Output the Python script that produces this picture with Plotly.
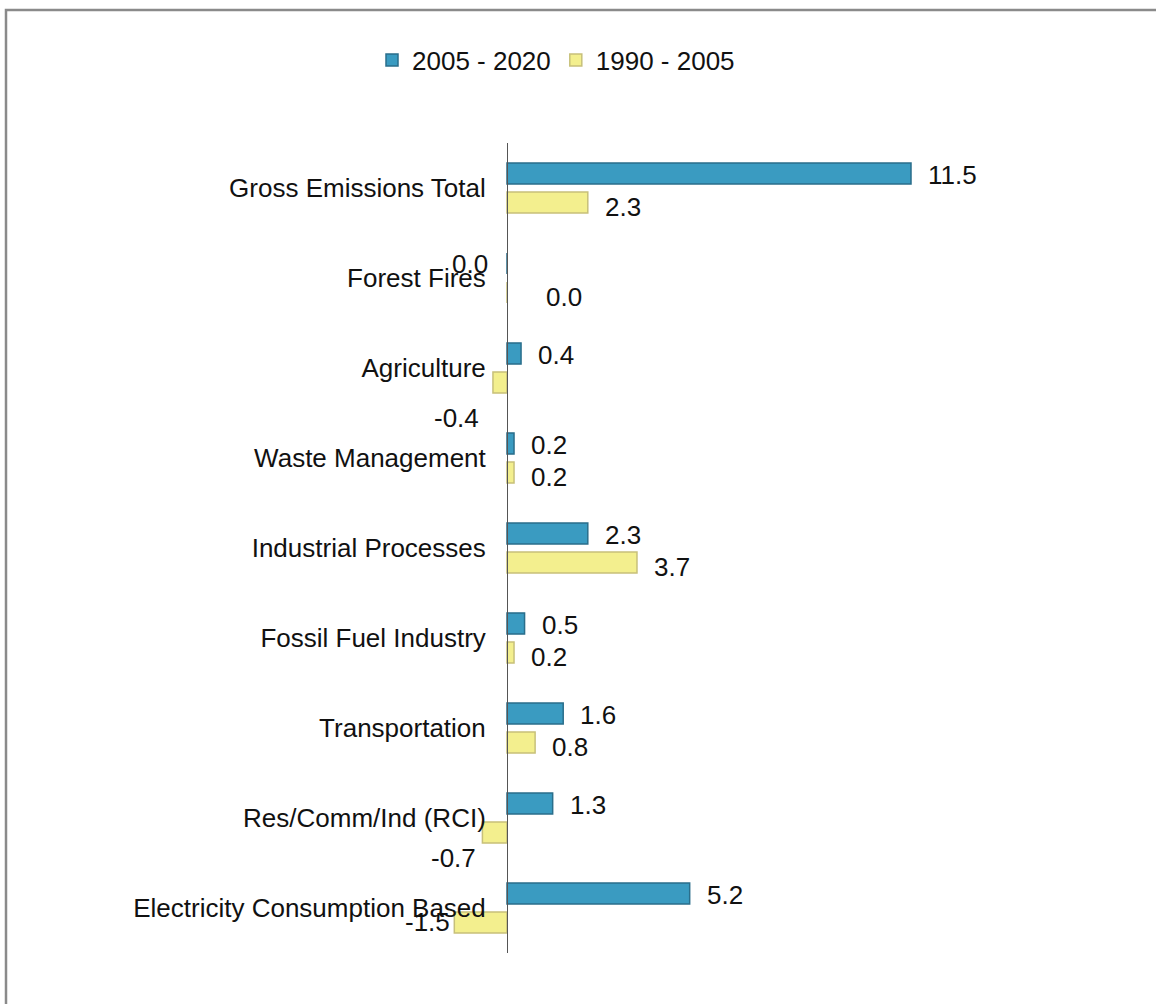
import plotly.graph_objects as go

# Change in emissions by sector (MMtCO2e), two periods
categories = [
    "Gross Emissions Total",
    "Forest Fires",
    "Agriculture",
    "Waste Management",
    "Industrial Processes",
    "Fossil Fuel Industry",
    "Transportation",
    "Res/Comm/Ind (RCI)",
    "Electricity Consumption Based",
]
series_names = ["2005 - 2020", "1990 - 2005"]
values_2005_2020 = [11.5, 0.0, 0.4, 0.2, 2.3, 0.5, 1.6, 1.3, 5.2]
values_1990_2005 = [2.3, 0.0, -0.4, 0.2, 3.7, 0.2, 0.8, -0.7, -1.5]

# ---- styling ----
FONT = "Liberation Sans, Arial, sans-serif"
FS = 26
W, H = 1156, 1004
ML, MR, MT, MB = 60, 60, 143, 51
PLOT_W = W - ML - MR
PLOT_H = H - MT - MB
PX_PER_UNIT = 35.13
ZERO_PX = 507
x_lo = -(ZERO_PX - ML) / PX_PER_UNIT
x_hi = x_lo + PLOT_W / PX_PER_UNIT

colors = {
    "2005 - 2020": dict(fill="#3A9BC1", line="#2A6E8B"),
    "1990 - 2005": dict(fill="#F3EF8E", line="#C7C07A"),
}
# vertical pixel offset of each series' value label from the category centre
label_dy = {"2005 - 2020": 13, "1990 - 2005": -19}
# individual label placements that differ from the default "right of bar end"
label_nudge = {
    ("2005 - 2020", "Forest Fires"): dict(xanchor="right", xshift=-17, yshift=14),
    ("1990 - 2005", "Forest Fires"): dict(xanchor="left", xshift=37, yshift=-19),
    ("1990 - 2005", "Agriculture"): dict(xanchor="right", xshift=-12, yshift=-50),
    ("1990 - 2005", "Res/Comm/Ind (RCI)"): dict(xanchor="right", xshift=-4, yshift=-40),
    ("1990 - 2005", "Electricity Consumption Based"): dict(xanchor="right", xshift=-2, yshift=-14),
}

fig = go.Figure()
annotations = []
for name, vals in zip(series_names, [values_2005_2020, values_1990_2005]):
    fig.add_trace(go.Bar(
        name=name,
        y=categories,
        x=vals,
        orientation="h",
        marker=dict(color=colors[name]["fill"],
                    line=dict(color=colors[name]["line"], width=1.5)),
        hoverinfo="x+y+name",
    ))
    for cat, v in zip(categories, vals):
        spec = dict(xanchor="left", xshift=15, yshift=label_dy[name])
        spec.update(label_nudge.get((name, cat), {}))
        annotations.append(dict(
            x=v, y=cat, xref="x", yref="y", text=f"{v:.1f}",
            showarrow=False, yanchor="middle",
            font=dict(family=FONT, size=FS, color="#111111"),
            **spec,
        ))

# frame around the chart area
def px_to_paper(px, py):
    return (px - ML) / PLOT_W, (H - MB - py) / PLOT_H

fx0, fy0 = px_to_paper(6, 1006)
fx1, fy1 = px_to_paper(6, 10)
fx2, fy2 = px_to_paper(1158, 10)

fig.update_layout(
    width=W, height=H,
    margin=dict(l=ML, r=MR, t=MT, b=MB),
    paper_bgcolor="white",
    plot_bgcolor="white",
    barmode="group",
    bargap=0.355,
    bargroupgap=0.27,
    font=dict(family=FONT, size=FS, color="#111111"),
    showlegend=True,
    legend=dict(
        orientation="h",
        x=px_to_paper(556, 0)[0], xanchor="center",
        y=px_to_paper(0, 60)[1], yanchor="middle",
        font=dict(family=FONT, size=FS, color="#111111"),
        itemwidth=30,
        bgcolor="rgba(0,0,0,0)",
    ),
    xaxis=dict(
        range=[x_lo, x_hi],
        showgrid=False, showticklabels=False, ticks="",
        zeroline=False, showline=False,
    ),
    yaxis=dict(
        autorange="reversed",
        anchor="free",
        position=(ZERO_PX - ML) / PLOT_W,
        showline=True, linecolor="#555555", linewidth=1,
        showgrid=False, ticks="",
        ticklabelstandoff=16,
        tickfont=dict(family=FONT, size=FS, color="#111111"),
    ),
    annotations=annotations,
    shapes=[dict(
        type="path", xref="paper", yref="paper",
        path=f"M {fx0} {fy0} L {fx1} {fy1} L {fx2} {fy2}",
        line=dict(color="#8a8a8a", width=2.5),
    )],
)

fig.write_html("out.html")
